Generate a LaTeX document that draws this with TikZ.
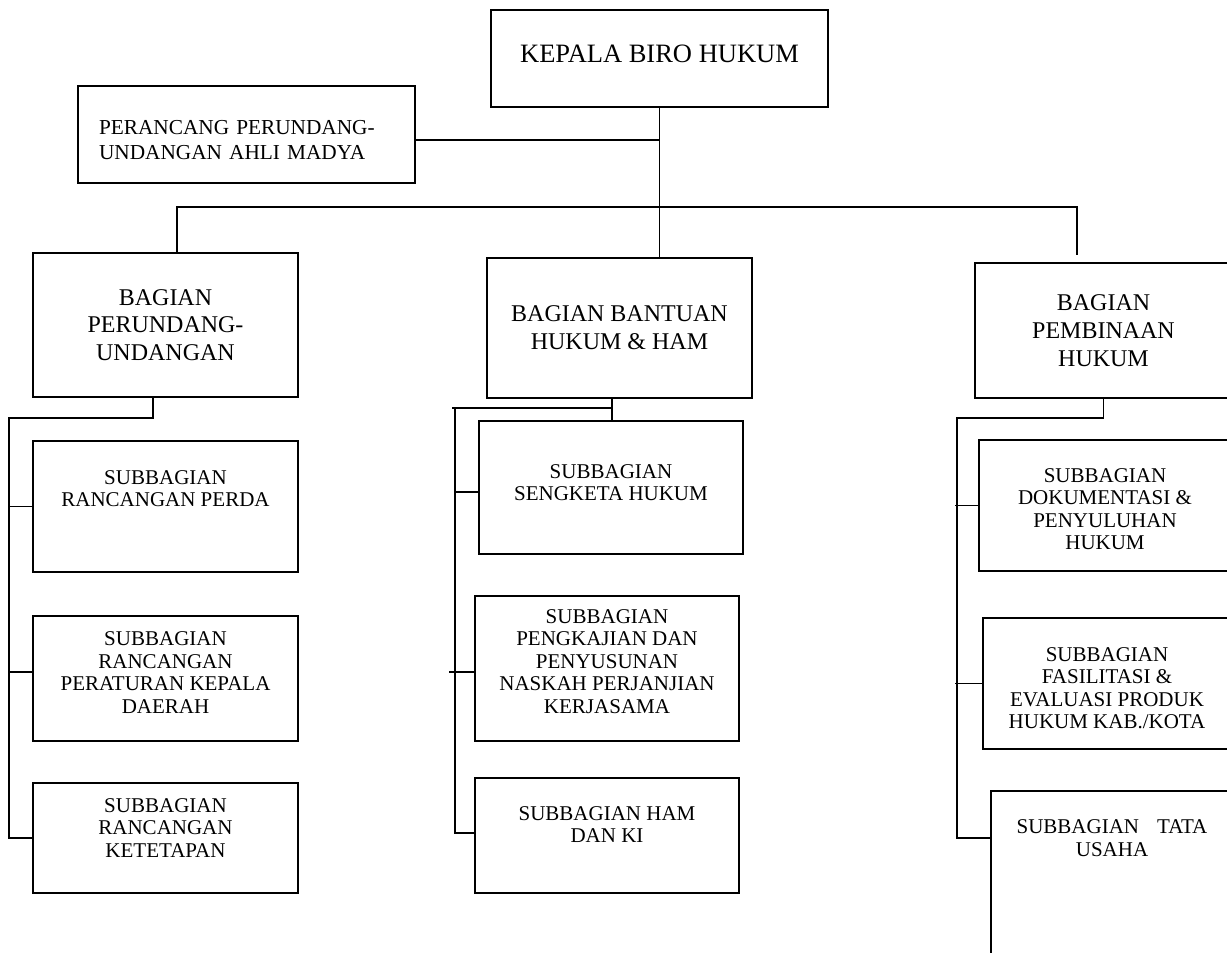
\documentclass[tikz,border=0pt]{standalone}
\usepackage{fontspec}
\setmainfont{Liberation Serif}
\usepackage{tikz}
\usetikzlibrary{calc,positioning}

\tikzset{
  orgbox/.style={draw, line width=1.5pt, align=center, inner sep=0pt},
  topbox/.style={orgbox, font=\fontsize{26.5}{30}\selectfont},
  partbox/.style={orgbox, font=\fontsize{24}{27.7}\selectfont, minimum width=265pt},
  subbox/.style={orgbox, font=\fontsize{21}{22.5}\selectfont},
  link/.style={line width=1.5pt}
}

\begin{document}
\begin{tikzpicture}[x=1pt,y=-1pt]

  \useasboundingbox (0,0) rectangle (1227,953);
  \clip (0,0) rectangle (1227,953);

  \node[topbox, minimum width=337pt, minimum height=97pt, text depth=10pt] (kepala) at (659.5,58.5) {KEPALA BIRO HUKUM};
  \node[orgbox, font=\fontsize{21.3}{25}\selectfont, align=left, text width=295pt, inner xsep=21pt, minimum height=97pt, text height=26pt] (perancang) at (246.5,134.5) {PERANCANG PERUNDANG-\\UNDANGAN AHLI MADYA};

  \node[partbox, minimum height=144pt] (bpu) at (165.5,325) {BAGIAN\\PERUNDANG-\\UNDANGAN};
  \node[partbox, minimum height=140pt] (bbh) at (619.5,328) {BAGIAN BANTUAN\\HUKUM \& HAM};
  \node[partbox, minimum width=257pt, minimum height=135pt] (bph) at (1103.5,330.5) {BAGIAN\\PEMBINAAN\\HUKUM};

  \node[subbox, minimum width=265pt, minimum height=131pt, text depth=36pt] (lp1) at (165.5,506.5) {SUBBAGIAN\\RANCANGAN PERDA};
  \node[subbox, minimum width=265pt, minimum height=125pt, text depth=12pt] (lp2) at (165.5,678.5) {SUBBAGIAN\\RANCANGAN\\PERATURAN KEPALA\\DAERAH};
  \node[subbox, minimum width=265pt, minimum height=110pt, text depth=20pt] (lp3) at (165.5,838) {SUBBAGIAN\\RANCANGAN\\KETETAPAN};

  \node[subbox, minimum width=264pt, minimum height=133pt, text depth=10pt] (ms1) at (611,487.5) {SUBBAGIAN\\SENGKETA HUKUM};
  \node[subbox, minimum width=264pt, minimum height=145pt, text depth=14pt] (ms2) at (607,668.5) {SUBBAGIAN\\PENGKAJIAN DAN\\PENYUSUNAN\\NASKAH PERJANJIAN\\KERJASAMA};
  \node[subbox, minimum width=264pt, minimum height=115pt, text depth=22pt] (ms3) at (607,835.5) {SUBBAGIAN HAM\\DAN KI};

  \node[subbox, minimum width=252pt, minimum height=131pt, text height=88.5pt] (rs1) at (1105,505.5) {SUBBAGIAN\\DOKUMENTASI \&\\PENYULUHAN\\HUKUM};
  \node[subbox, minimum width=248pt, minimum height=131pt, text height=90.5pt] (rs2) at (1107,683.5) {SUBBAGIAN\\FASILITASI \&\\EVALUASI PRODUK\\HUKUM KAB./KOTA};
  \node[subbox, minimum width=242pt, minimum height=174pt, text depth=80pt] (rs3) at (1112,878) {SUBBAGIAN\hspace{18pt}TATA\\USAHA};

  \coordinate (busL) at (177,207);
  \coordinate (busR) at (1077,207);
  \coordinate (dropR) at (1077,255);
  \coordinate (lspine) at (9,418);
  \coordinate (mspine) at (455,408);
  \coordinate (rspine) at (957,418);

  \draw[link] (kepala.south) -- (kepala.south |- bbh.north);
  \draw[link] ([yshift=-5.5pt]perancang.east) -- ([yshift=-5.5pt]perancang.east -| kepala.south);
  \draw[link] (busL |- bpu.north) -- (busL) -- (busR) -- (dropR);

  \draw[link] ([xshift=-12.5pt]bpu.south) |- (lspine) |- (lp3.west);
  \draw[link] (lspine |- lp1.west) -- (lp1.west);
  \draw[link] ([yshift=6.5pt]lp2.west -| lspine) -- ([yshift=6.5pt]lp2.west);

  \draw[link] ([xshift=-7.5pt]bbh.south) -- ([xshift=-7.5pt]bbh.south |- ms1.north);
  \draw[link] ([xshift=-7.5pt]bbh.south |- mspine) -- ([xshift=-3pt]mspine);
  \draw[link] (mspine) |- ([yshift=2.5pt]ms3.west);
  \draw[link] ([yshift=-4.5pt]ms1.west -| mspine) -- ([yshift=-4.5pt]ms1.west);
  \draw[link] ([xshift=-6pt,yshift=-3.5pt]ms2.west -| mspine) -- ([yshift=-3.5pt]ms2.west);

  \draw[link] (bph.south) |- (rspine) |- ([yshift=40pt]rs3.west);
  \draw[link] ([xshift=-2pt]rs1.west -| rspine) -- (rs1.west);
  \draw[link] ([xshift=-2pt]rs2.west -| rspine) -- (rs2.west);

\end{tikzpicture}
\end{document}
